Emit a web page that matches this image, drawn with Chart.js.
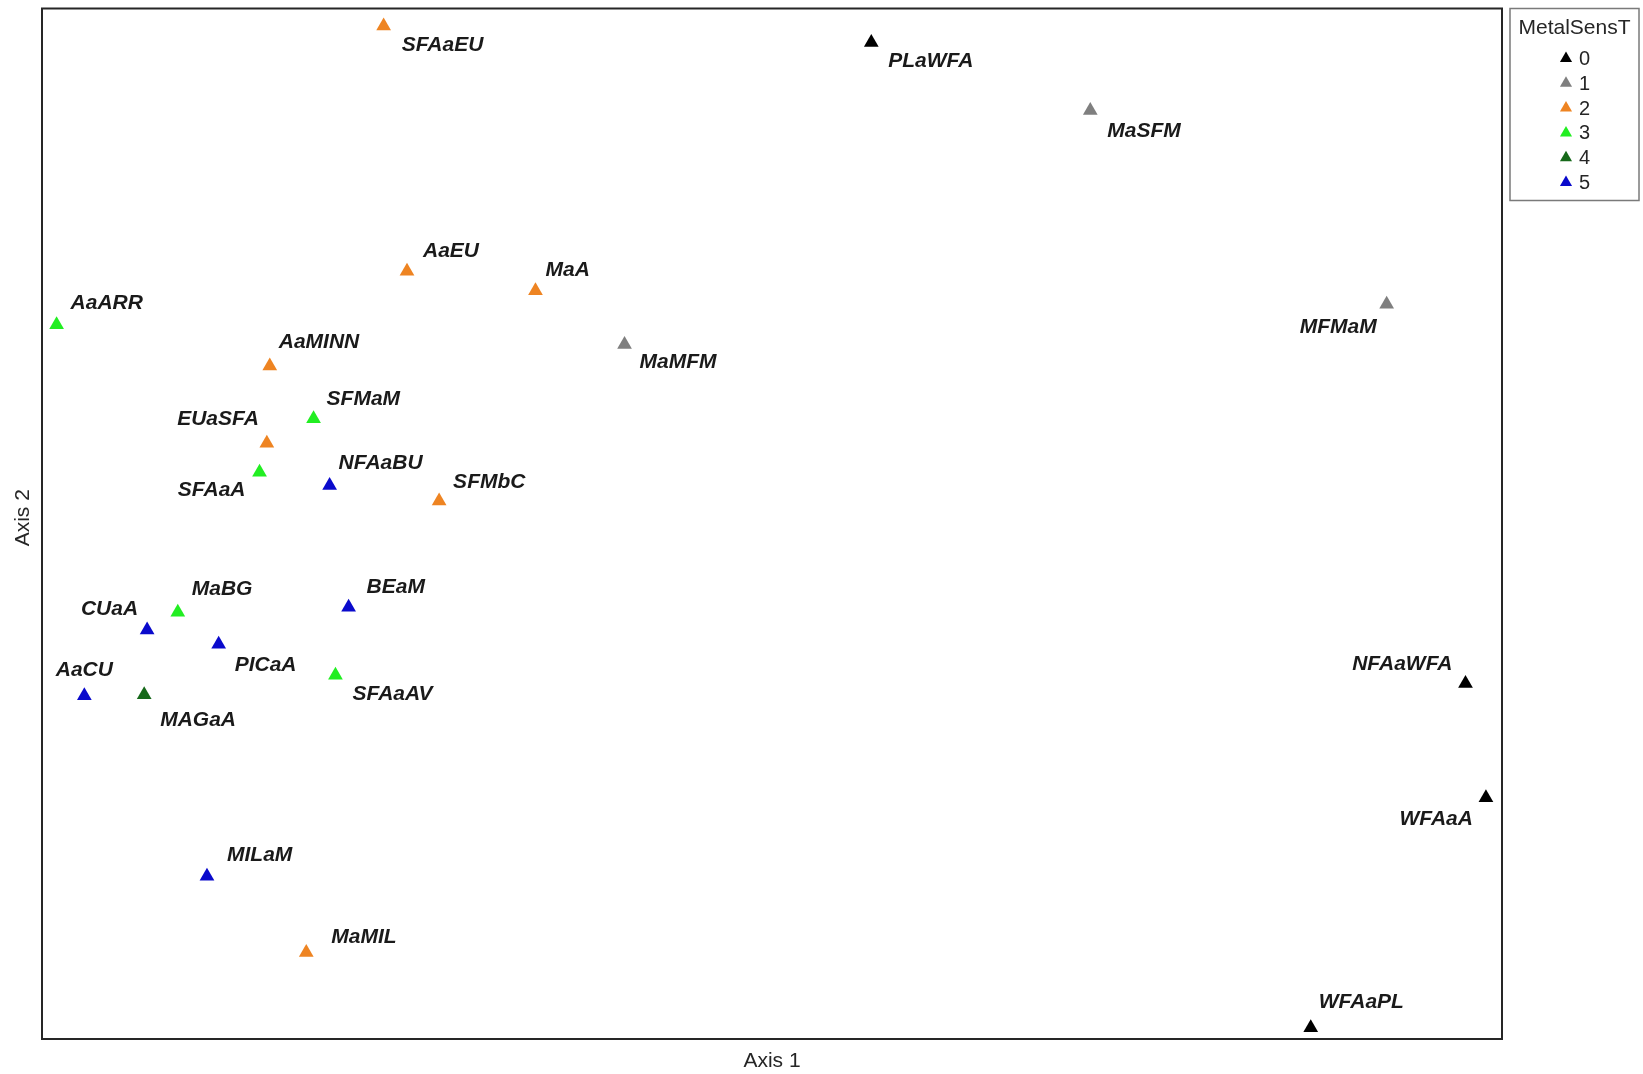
<!DOCTYPE html>
<html>
<head>
<meta charset="utf-8">
<title>NMDS – MetalSensT</title>
<script src="https://cdn.jsdelivr.net/npm/chart.js@4/dist/chart.umd.min.js"></script>
<style>
  html, body { margin: 0; padding: 0; background: #ffffff; }
  canvas { display: block; }
</style>
</head>
<body>
<canvas id="ord" width="1643" height="1074"></canvas>
<script>
// Site names (community pairs) in the ordination
const siteNames = [
  'SFAaEU', 'PLaWFA', 'MaSFM', 'AaEU', 'MaA', 'AaARR', 'MFMaM', 'MaMFM',
  'AaMINN', 'SFMaM', 'EUaSFA', 'SFAaA', 'NFAaBU', 'SFMbC', 'BEaM', 'MaBG',
  'CUaA', 'PICaA', 'SFAaAV', 'AaCU', 'MAGaA', 'NFAaWFA', 'WFAaA', 'MILaM',
  'MaMIL', 'WFAaPL'
];
// Axis 1 scores (rescaled 0–100)
const axis1Scores = [
  23.4, 56.8, 71.8, 25.0, 33.8, 1.0, 92.1, 39.9,
  15.6, 18.6, 15.4, 14.9, 19.7, 27.2, 21.0, 9.3,
  7.2, 12.1, 20.1, 2.9, 7.0, 97.5, 98.9, 11.3,
  18.1, 86.9
];
// Axis 2 scores (rescaled 0–100)
const axis2Scores = [
  98.3, 96.7, 90.1, 74.5, 72.6, 69.3, 71.3, 67.4,
  65.3, 60.2, 57.8, 55.0, 53.7, 52.2, 41.9, 41.4,
  39.7, 38.3, 35.3, 33.3, 33.4, 34.5, 23.4, 15.8,
  8.4, 1.1
];
// MetalSensT class of each site
const sensClass = [
  2, 0, 1, 2, 2, 3, 1, 1,
  2, 3, 2, 3, 5, 2, 5, 3,
  5, 5, 3, 5, 4, 0, 0, 5,
  2, 0
];
// Legend levels
const sensLevels = ['0', '1', '2', '3', '4', '5'];

const levelColors = ['#000000', '#7f7f7f', '#ee8422', '#22ee22', '#16691a', '#0a0acc'];

// Where each site label sits relative to its marker: [dx, dy, textAlign]
const labelPlacement = {
  SFAaEU: [18, 19, 'left'],   PLaWFA: [17, 19, 'left'],   MaSFM: [17, 21, 'left'],
  AaEU: [16, -20, 'left'],    MaA: [10, -21, 'left'],     AaARR: [14, -22, 'left'],
  MFMaM: [-10, 23, 'right'],  MaMFM: [15, 18, 'left'],    AaMINN: [9, -24, 'left'],
  SFMaM: [13, -19, 'left'],   EUaSFA: [-8, -24, 'right'], SFAaA: [-14, 18, 'right'],
  NFAaBU: [9, -22, 'left'],   SFMbC: [14, -19, 'left'],   BEaM: [18, -20, 'left'],
  MaBG: [14, -23, 'left'],    CUaA: [-9, -21, 'right'],   PICaA: [16, 21, 'left'],
  SFAaAV: [17, 19, 'left'],   AaCU: [0, -26, 'center'],   MAGaA: [16, 25, 'left'],
  NFAaWFA: [-13, -19, 'right'], WFAaA: [-13, 21, 'right'], MILaM: [20, -21, 'left'],
  MaMIL: [25, -15, 'left'],   WFAaPL: [8, -25, 'left']
};

// One dataset per sensitivity class
const datasets = sensLevels.map((lvl, k) => {
  const pts = [];
  siteNames.forEach((name, i) => {
    if (sensClass[i] === k) pts.push({ x: axis1Scores[i], y: axis2Scores[i], name: name });
  });
  return {
    label: lvl,
    data: pts,
    pointStyle: 'triangle',
    pointRadius: 8.5,
    pointHoverRadius: 8.5,
    backgroundColor: levelColors[k],
    borderColor: levelColors[k],
    borderWidth: 0
  };
});

const FONT = '"Liberation Sans", Arial, Helvetica, sans-serif';

// Frame, axis titles, site labels and the boxed legend
const ordinationDecor = {
  id: 'ordinationDecor',
  afterDatasetsDraw(chart) {
    const ctx = chart.ctx;
    const a = chart.chartArea;

    // site labels
    ctx.save();
    ctx.font = 'italic bold 21px ' + FONT;
    ctx.fillStyle = '#1a1a1a';
    ctx.textBaseline = 'middle';
    chart.data.datasets.forEach((ds, di) => {
      const meta = chart.getDatasetMeta(di);
      meta.data.forEach((el, j) => {
        const name = ds.data[j].name;
        const p = labelPlacement[name] || [12, -18, 'left'];
        ctx.textAlign = p[2];
        ctx.fillText(name, el.x + p[0], el.y + p[1]);
      });
    });
    ctx.restore();

    // plot frame
    ctx.save();
    ctx.strokeStyle = '#262626';
    ctx.lineWidth = 2;
    ctx.strokeRect(a.left, a.top, a.right - a.left, a.bottom - a.top);
    ctx.restore();

    // axis titles
    ctx.save();
    ctx.font = '21px ' + FONT;
    ctx.fillStyle = '#262626';
    ctx.textAlign = 'center';
    ctx.textBaseline = 'middle';
    ctx.fillText('Axis 1', (a.left + a.right) / 2, a.bottom + 22);
    ctx.translate(23, (a.top + a.bottom) / 2 - 6);
    ctx.rotate(-Math.PI / 2);
    ctx.fillText('Axis 2', 0, 0);
    ctx.restore();

    // legend
    const lx = a.right + 8, ly = a.top, lw = 129, lh = 192;
    ctx.save();
    ctx.strokeStyle = '#7a7a7a';
    ctx.lineWidth = 1.5;
    ctx.strokeRect(lx, ly, lw, lh);
    ctx.fillStyle = '#262626';
    ctx.font = '21px ' + FONT;
    ctx.textAlign = 'center';
    ctx.textBaseline = 'middle';
    ctx.fillText('MetalSensT', lx + lw / 2, ly + 20);
    ctx.font = '20px ' + FONT;
    ctx.textAlign = 'left';
    chart.data.datasets.forEach((ds, k) => {
      const cy = ly + 50 + k * 24.8;
      const mx = lx + 56;
      const r = 7;
      ctx.fillStyle = ds.backgroundColor;
      ctx.beginPath();
      ctx.moveTo(mx, cy - r);
      ctx.lineTo(mx + r * Math.sin(2 * Math.PI / 3), cy - r * Math.cos(2 * Math.PI / 3));
      ctx.lineTo(mx + r * Math.sin(4 * Math.PI / 3), cy - r * Math.cos(4 * Math.PI / 3));
      ctx.closePath();
      ctx.fill();
      ctx.fillStyle = '#262626';
      ctx.fillText(ds.label, mx + 13, cy + 1);
    });
    ctx.restore();
  }
};

new Chart(document.getElementById('ord'), {
  type: 'scatter',
  data: { datasets: datasets },
  options: {
    responsive: false,
    devicePixelRatio: 1,
    animation: false,
    layout: { padding: { left: 42, top: 7, right: 141, bottom: 35 } },
    scales: {
      x: { type: 'linear', min: 0, max: 100, display: false },
      y: { type: 'linear', min: 0, max: 100, display: false }
    },
    plugins: {
      legend: { display: false },
      tooltip: { enabled: false }
    },
    clip: false
  },
  plugins: [ordinationDecor]
});
</script>
</body>
</html>
